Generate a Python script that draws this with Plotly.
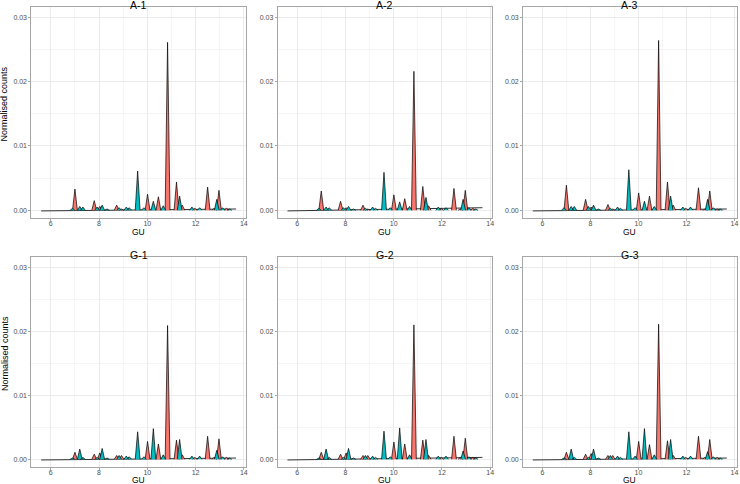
import plotly.graph_objects as go
from plotly.subplots import make_subplots

# peak positions (GU) shared by all samples, and their fill group
gu = [6.90, 7.00, 7.20, 7.33, 7.80, 7.92, 8.03, 8.13, 8.33, 8.73, 8.83, 8.93,
      9.13, 9.25, 9.60, 9.86, 10.01, 10.25, 10.46, 10.66, 10.84, 11.21, 11.34,
      11.45, 11.85, 11.97, 12.17, 12.50, 12.77, 12.88, 12.97, 13.12, 13.28, 13.40]
group = ["t", "r", "t", "t", "r", "t", "r", "t", "t", "r", "t", "r",
         "t", "t", "t", "t", "r", "t", "r", "t", "r", "r", "t",
         "r", "t", "r", "t", "r", "r", "t", "r", "t", "r", "t"]

samples = ["A-1", "A-2", "A-3", "G-1", "G-2", "G-3"]

a1 = [0.0003, 0.0033, 0.0006, 0.0005, 0.0015, 0.0005, 0.0006, 0.0008, 0.0002, 0.0008, 0.0004, 0.0002,
      0.0005, 0.0004, 0.0061, 0.0004, 0.0025, 0.0014, 0.0021, 0.0007, 0.0261, 0.0044, 0.0022,
      0.0008, 0.0005, 0.0003, 0.0004, 0.0036, 0.0003, 0.0017, 0.0031, 0.0004, 0.0003, 0.0002]
a2 = [0.0003, 0.0030, 0.0005, 0.0004, 0.0014, 0.0004, 0.0004, 0.0006, 0.0002, 0.0008, 0.0003, 0.0002,
      0.0005, 0.0003, 0.0059, 0.0004, 0.0024, 0.0013, 0.0018, 0.0006, 0.0216, 0.0037, 0.0020,
      0.0007, 0.0005, 0.0003, 0.0004, 0.0034, 0.0002, 0.0017, 0.0031, 0.0004, 0.0003, 0.0002]
a3 = [0.0004, 0.0039, 0.0006, 0.0006, 0.0017, 0.0006, 0.0005, 0.0008, 0.0002, 0.0009, 0.0003, 0.0002,
      0.0005, 0.0003, 0.0063, 0.0004, 0.0027, 0.0014, 0.0022, 0.0006, 0.0264, 0.0044, 0.0022,
      0.0008, 0.0005, 0.0003, 0.0005, 0.0035, 0.0002, 0.0017, 0.0030, 0.0004, 0.0002, 0.0002]
g1 = [0.0002, 0.0011, 0.0016, 0.0003, 0.0008, 0.0003, 0.0010, 0.0017, 0.0002, 0.0006, 0.0006, 0.0006,
      0.0005, 0.0004, 0.0043, 0.0004, 0.0028, 0.0048, 0.0024, 0.0007, 0.0209, 0.0030, 0.0031,
      0.0007, 0.0005, 0.0003, 0.0005, 0.0036, 0.0003, 0.0014, 0.0032, 0.0004, 0.0003, 0.0002]
g2 = [0.0002, 0.0011, 0.0016, 0.0003, 0.0008, 0.0003, 0.0010, 0.0017, 0.0002, 0.0006, 0.0006, 0.0006,
      0.0005, 0.0003, 0.0044, 0.0004, 0.0027, 0.0049, 0.0024, 0.0007, 0.0210, 0.0030, 0.0031,
      0.0006, 0.0005, 0.0003, 0.0005, 0.0036, 0.0003, 0.0013, 0.0033, 0.0004, 0.0003, 0.0002]
g3 = [0.0002, 0.0011, 0.0016, 0.0003, 0.0008, 0.0003, 0.0009, 0.0016, 0.0002, 0.0006, 0.0006, 0.0006,
      0.0005, 0.0003, 0.0043, 0.0005, 0.0028, 0.0048, 0.0023, 0.0007, 0.0211, 0.0029, 0.0031,
      0.0006, 0.0005, 0.0003, 0.0005, 0.0036, 0.0003, 0.0012, 0.0031, 0.0004, 0.0003, 0.0002]
heights = [a1, a2, a3, g1, g2, g3]

# baseline start/end of each trace
base_gu = [5.6, 13.68]
base_lvl = [[-0.0001, 0.0002], [-0.0001, 0.0004], [-0.0001, 0.0002],
            [-0.0001, 0.0002], [-0.0001, 0.0003], [-0.0001, 0.0002]]

x_ticks = [6, 8, 10, 12, 14]
y_ticks = [0, 0.01, 0.02, 0.03]
y_tick_text = ["0.00", "0.01", "0.02", "0.03"]

colours = {"r": "#F8766D", "t": "#00BFC4"}
hw = 0.1
W, H = 740, 484
cols_px = [(31.5, 246.5), (278.5, 493.5), (524.5, 738.5)]
rows_px = [(7, 218), (257, 467)]
font = "Liberation Sans, Arial, sans-serif"

fig = make_subplots(rows=2, cols=3)
ann = []
for i, name in enumerate(samples):
    r, c = divmod(i, 3)
    fig.add_trace(go.Scatter(x=base_gu, y=base_lvl[i], mode="lines",
                             line=dict(color="black", width=0.8), showlegend=False,
                             hoverinfo="skip"), row=r + 1, col=c + 1)
    for g in ["r", "t"]:
        xs, ys = [], []
        for p, h, k in zip(gu, heights[i], group):
            if k != g:
                continue
            xs += [p - hw, p, p + hw, None]
            ys += [0, h, 0, None]
        fig.add_trace(go.Scatter(x=xs, y=ys, mode="lines", fill="toself",
                                 fillcolor=colours[g],
                                 line=dict(color="black", width=0.7),
                                 showlegend=False, hoverinfo="skip"),
                      row=r + 1, col=c + 1)
    l, rr = cols_px[c]
    t, b = rows_px[r]
    xd = [l / W, rr / W]
    yd = [1 - b / H, 1 - t / H]
    fig.update_xaxes(domain=xd, range=[5.196, 14.084], tickvals=x_ticks,
                     row=r + 1, col=c + 1)
    fig.update_yaxes(domain=yd, range=[-0.0012, 0.0316], tickvals=y_ticks,
                     ticktext=y_tick_text, row=r + 1, col=c + 1)
    cx = (l + rr) / 2 / W
    ann.append(dict(text=name, x=cx, y=1 - (t - 2.5) / H, xref="paper", yref="paper",
                    xanchor="center", yanchor="middle", showarrow=False,
                    font=dict(size=10.5, color="black", family=font)))
    ann.append(dict(text="GU", x=cx, y=1 - min(b + 13.5, 479.5) / H, xref="paper",
                    yref="paper", xanchor="center", yanchor="middle", showarrow=False,
                    font=dict(size=8.5, color="black", family=font)))
    if c == 0:
        ann.append(dict(text="Normalised counts", x=5 / W, y=1 - ((t + b) / 2 - 9) / H,
                        xref="paper", yref="paper", xanchor="center", yanchor="middle",
                        textangle=-90, showarrow=False,
                        font=dict(size=9, color="black", family=font)))

axis_style = dict(showline=True, mirror=True, linecolor="#a6a6a6", linewidth=1,
                  showgrid=True, gridcolor="#ebebeb", gridwidth=1, zeroline=False,
                  ticks="outside", ticklen=2, tickcolor="#a6a6a6", tickwidth=1,
                  tickfont=dict(size=7, color="#4d4d4d", family=font))
fig.update_xaxes(**axis_style, ticklabelstandoff=-3,
                 minor=dict(dtick=1, showgrid=True, gridcolor="#f5f5f5"))
fig.update_yaxes(**axis_style, minor=dict(dtick=0.005, showgrid=True, gridcolor="#f5f5f5"))

fig.update_layout(width=W, height=H, margin=dict(l=0, r=0, t=0, b=0),
                  paper_bgcolor="white", plot_bgcolor="white",
                  annotations=ann, showlegend=False)
fig.write_html("out.html", config={"displayModeBar": False},
               post_script="document.body.style.margin='0px';")
